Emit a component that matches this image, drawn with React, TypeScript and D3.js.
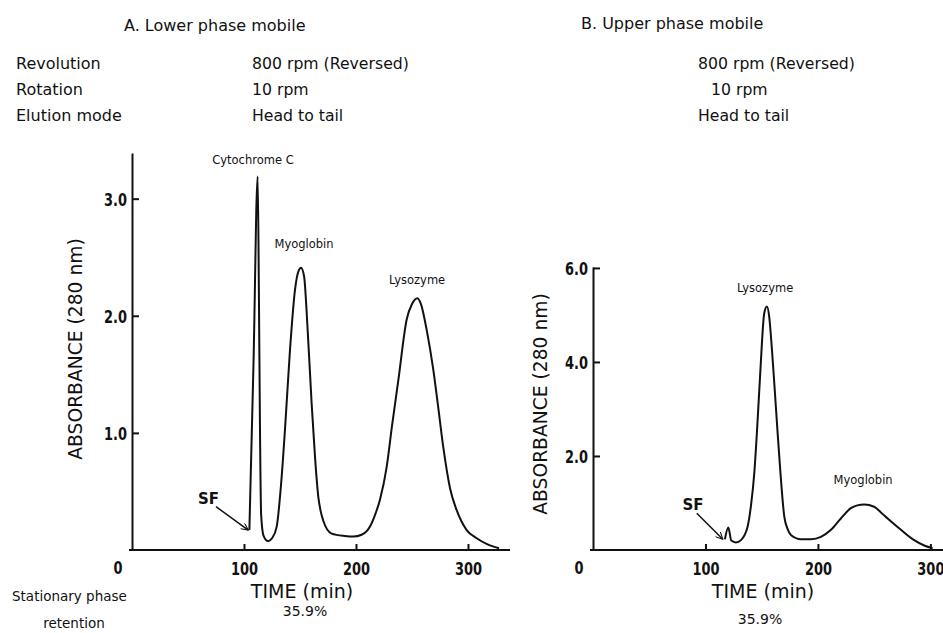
import { useRef, useEffect } from "react";
import { select, scaleLinear, line, curveMonotoneX, axisLeft, axisBottom } from "d3";

const W = 943;
const H = 633;
const INK = "#111";
const SANS = "'DejaVu Sans', Verdana, sans-serif";
const TICK_FONT = "'DejaVu Sans', sans-serif";
const SQUEEZE = 0.72; // tick digits are tall and narrow in the original

// header text
const settingNames = ["Revolution", "Rotation", "Elution mode"];
const settingsA = ["800 rpm (Reversed)", "10 rpm", "Head to tail"];
const settingsB = ["800 rpm (Reversed)", "10 rpm", "Head to tail"];
const retention = "35.9%";

// A. lower phase mobile: [time (min), absorbance]
const timeA = [104.8, 108.5, 112.2, 113.3, 114.3, 115.3, 117.5, 121.5, 125, 129.2, 133, 136.6, 141, 145.5, 149, 150.9,
  153.6, 157, 160.4, 163.5, 166.4, 168.5, 170.8, 178.3, 190, 197.6, 205, 212.5, 217, 221.4, 227.4, 232, 237.8, 245.3, 250,
  254.8, 258, 263.1, 269, 273, 277.9, 283.9, 289.9, 298.8, 307.8, 317, 327.7];
const absA = [0.17, 1.6, 3.19, 2.2, 1.0, 0.3, 0.12, 0.075, 0.1, 0.2, 0.55, 1.03, 1.7, 2.22, 2.39, 2.41,
  2.34, 1.85, 1.25, 0.78, 0.45, 0.33, 0.25, 0.14, 0.12, 0.115, 0.13, 0.2, 0.3, 0.43, 0.71, 1.05, 1.45, 1.97, 2.1,
  2.15, 2.1, 1.88, 1.54, 1.25, 0.88, 0.53, 0.34, 0.17, 0.1, 0.05, 0.015];

// B. upper phase mobile
const timeB = [117.3, 120.3, 123, 127.1, 131.6, 137.5, 140.5, 143.4, 146, 148.7, 152.3, 154.7, 156.7, 159, 161.2,
  164, 166.5, 170.1, 173, 176, 184.9, 193.8, 202.7, 211.6, 220.4, 229.3, 235, 241.2, 250, 256, 262, 273.8,
  285.6, 295, 302];
const absB = [0.23, 0.48, 0.2, 0.16, 0.21, 0.5, 0.95, 1.63, 2.6, 3.76, 5.04, 5.18, 4.96, 4.3, 3.55,
  2.55, 1.7, 0.71, 0.45, 0.32, 0.23, 0.23, 0.28, 0.43, 0.67, 0.89, 0.95, 0.97, 0.92, 0.8, 0.67, 0.43,
  0.21, 0.09, 0.04];

const timeTicks = [100, 200, 300];
const absTicksA = [1.0, 2.0, 3.0];
const absTicksB = [2.0, 4.0, 6.0];

// peak labels in data coordinates
const peakNamesA = ["Cytochrome C", "Myoglobin", "Lysozyme"];
const peakTimeA = [108, 153.6, 254.5];
const peakAbsA = [3.33, 2.61, 2.31];
const peakNamesB = ["Lysozyme", "Myoglobin"];
const peakTimeB = [153, 240.2];
const peakAbsB = [5.57, 1.49];

// solvent front arrow: [label, arrow start, arrow end]
const sfA = [[68.3, 0.44], [75, 0.37], [103.8, 0.17]];
const sfB = [[89, 0.96], [92.3, 0.78], [115.4, 0.23]];

type PanelProps = {
  id: string;
  left: number;
  right: number;
  xMax: number;
  top: number;
  yMax: number;
  time: number[];
  abs: number[];
  yTicks: number[];
  names: string[];
  nameT: number[];
  nameA: number[];
  sf: number[][];
};

function Panel({ id, left, right, xMax, top, yMax, time, abs, yTicks, names, nameT, nameA, sf }: PanelProps) {
  const ref = useRef<SVGGElement>(null);

  useEffect(() => {
    const g = select(ref.current);
    g.selectAll("*").remove();

    const x = scaleLinear().domain([0, xMax]).range([left, right]);
    const y = scaleLinear().domain([0, yMax]).range([550, top]);

    // axes, ticks pointing inwards
    const yAxis = g.append("g")
      .attr("transform", `translate(${x(0)},0)`)
      .call(axisLeft(y).tickValues(yTicks).tickFormat((d) => Number(d).toFixed(1))
        .tickSizeInner(-7).tickSizeOuter(0).tickPadding(7));
    const xAxis = g.append("g")
      .attr("transform", `translate(0,${y(0)})`)
      .call(axisBottom(x).tickValues(timeTicks).tickFormat((d) => String(d))
        .tickSizeInner(-6).tickSizeOuter(0).tickPadding(12));
    [yAxis, xAxis].forEach((a) => {
      a.selectAll("path, line").attr("stroke", INK).attr("stroke-width", 2);
      a.selectAll("text")
        .attr("fill", INK)
        .attr("transform", `scale(${SQUEEZE},1)`)
        .style("font-family", TICK_FONT)
        .style("font-weight", "bold")
        .style("font-size", "18px");
    });
    yAxis.selectAll("text").attr("dy", "0.36em");
    xAxis.select(".domain").attr("d", `M${x(0) - 3},0H${right}`);

    g.append("text")
      .attr("transform", `translate(${x(0) - 14},${y(0) + 18}) scale(${SQUEEZE},1)`)
      .attr("dy", "0.36em")
      .attr("text-anchor", "middle")
      .attr("fill", INK)
      .style("font-family", TICK_FONT)
      .style("font-weight", "bold")
      .style("font-size", "18px")
      .text("0");

    // chromatogram
    const pts = time.map((t, i) => [t, abs[i]] as [number, number]);
    const trace = line<[number, number]>()
      .x((d) => x(d[0]))
      .y((d) => y(d[1]))
      .curve(curveMonotoneX);
    g.append("path")
      .datum(pts)
      .attr("d", trace)
      .attr("fill", "none")
      .attr("stroke", INK)
      .attr("stroke-width", 2)
      .attr("stroke-linejoin", "round");

    // peak names
    g.selectAll(".peak")
      .data(names)
      .join("text")
      .attr("class", "peak")
      .attr("x", (_, i) => x(nameT[i]))
      .attr("y", (_, i) => y(nameA[i]))
      .attr("dy", "0.36em")
      .attr("text-anchor", "middle")
      .attr("fill", INK)
      .style("font-family", SANS)
      .style("font-size", "11.5px")
      .text((d) => d);

    // SF arrow
    g.append("defs").append("marker")
      .attr("id", `arrow-${id}`)
      .attr("viewBox", "0 0 10 10")
      .attr("refX", 10)
      .attr("refY", 5)
      .attr("markerWidth", 9)
      .attr("markerHeight", 7)
      .attr("markerUnits", "userSpaceOnUse")
      .attr("orient", "auto")
      .append("path")
      .attr("d", "M0,0L10,5L0,10")
      .attr("fill", "none")
      .attr("stroke", INK)
      .attr("stroke-width", 1.5);
    g.append("line")
      .attr("x1", x(sf[1][0]))
      .attr("y1", y(sf[1][1]))
      .attr("x2", x(sf[2][0]))
      .attr("y2", y(sf[2][1]))
      .attr("stroke", INK)
      .attr("stroke-width", 1.5)
      .attr("marker-end", `url(#arrow-${id})`);
    g.append("text")
      .attr("x", x(sf[0][0]))
      .attr("y", y(sf[0][1]))
      .attr("dy", "0.36em")
      .attr("text-anchor", "middle")
      .attr("fill", INK)
      .style("font-family", SANS)
      .style("font-weight", "bold")
      .style("font-size", "15px")
      .text("SF");
  }, [id, left, right, xMax, top, yMax, time, abs, yTicks, names, nameT, nameA, sf]);

  return <g ref={ref} />;
}

const txt = { fontFamily: SANS, fill: INK } as const;

export default function App() {
  return (
    <svg width={W} height={H} style={{ position: "absolute", left: 0, top: 0, background: "#fff" }}>
      <text x={124} y={25} dy="0.36em" fontSize={16} {...txt}>A. Lower phase mobile</text>
      <text x={581} y={23} dy="0.36em" fontSize={16} {...txt}>B. Upper phase mobile</text>
      {settingNames.map((s, i) => (
        <text key={s} x={16} y={63 + i * 26} dy="0.36em" fontSize={16} {...txt}>{s}</text>
      ))}
      {settingsA.map((s, i) => (
        <text key={s} x={252} y={63 + i * 26} dy="0.36em" fontSize={15.7} {...txt}>{s}</text>
      ))}
      {settingsB.map((s, i) => (
        <text key={s} x={i === 1 ? 711 : 698} y={63 + i * 26} dy="0.36em" fontSize={15.7} {...txt}>{s}</text>
      ))}

      <Panel id="a" left={132} right={510} xMax={337.5} top={153} yMax={3.39}
        time={timeA} abs={absA} yTicks={absTicksA}
        names={peakNamesA} nameT={peakTimeA} nameA={peakAbsA} sf={sfA} />
      <Panel id="b" left={593} right={945} xMax={313} top={267} yMax={6.02}
        time={timeB} abs={absB} yTicks={absTicksB}
        names={peakNamesB} nameT={peakTimeB} nameA={peakAbsB} sf={sfB} />

      <text transform="translate(75,349) rotate(-90)" dy="0.36em" textAnchor="middle" fontSize={18.7} {...txt}>
        ABSORBANCE (280 nm)
      </text>
      <text transform="translate(540,404) rotate(-90)" dy="0.36em" textAnchor="middle" fontSize={18.7} {...txt}>
        ABSORBANCE (280 nm)
      </text>
      <text x={302} y={591} dy="0.36em" textAnchor="middle" fontSize={19} {...txt}>TIME (min)</text>
      <text x={763} y={591} dy="0.36em" textAnchor="middle" fontSize={19} {...txt}>TIME (min)</text>

      <text x={12} y={596} dy="0.36em" fontSize={13.5} {...txt}>Stationary phase</text>
      <text x={74} y={623} dy="0.36em" textAnchor="middle" fontSize={13.5} {...txt}>retention</text>
      <text x={305} y={611} dy="0.36em" textAnchor="middle" fontSize={14} {...txt}>{retention}</text>
      <text x={760} y={619} dy="0.36em" textAnchor="middle" fontSize={14} {...txt}>{retention}</text>
    </svg>
  );
}
